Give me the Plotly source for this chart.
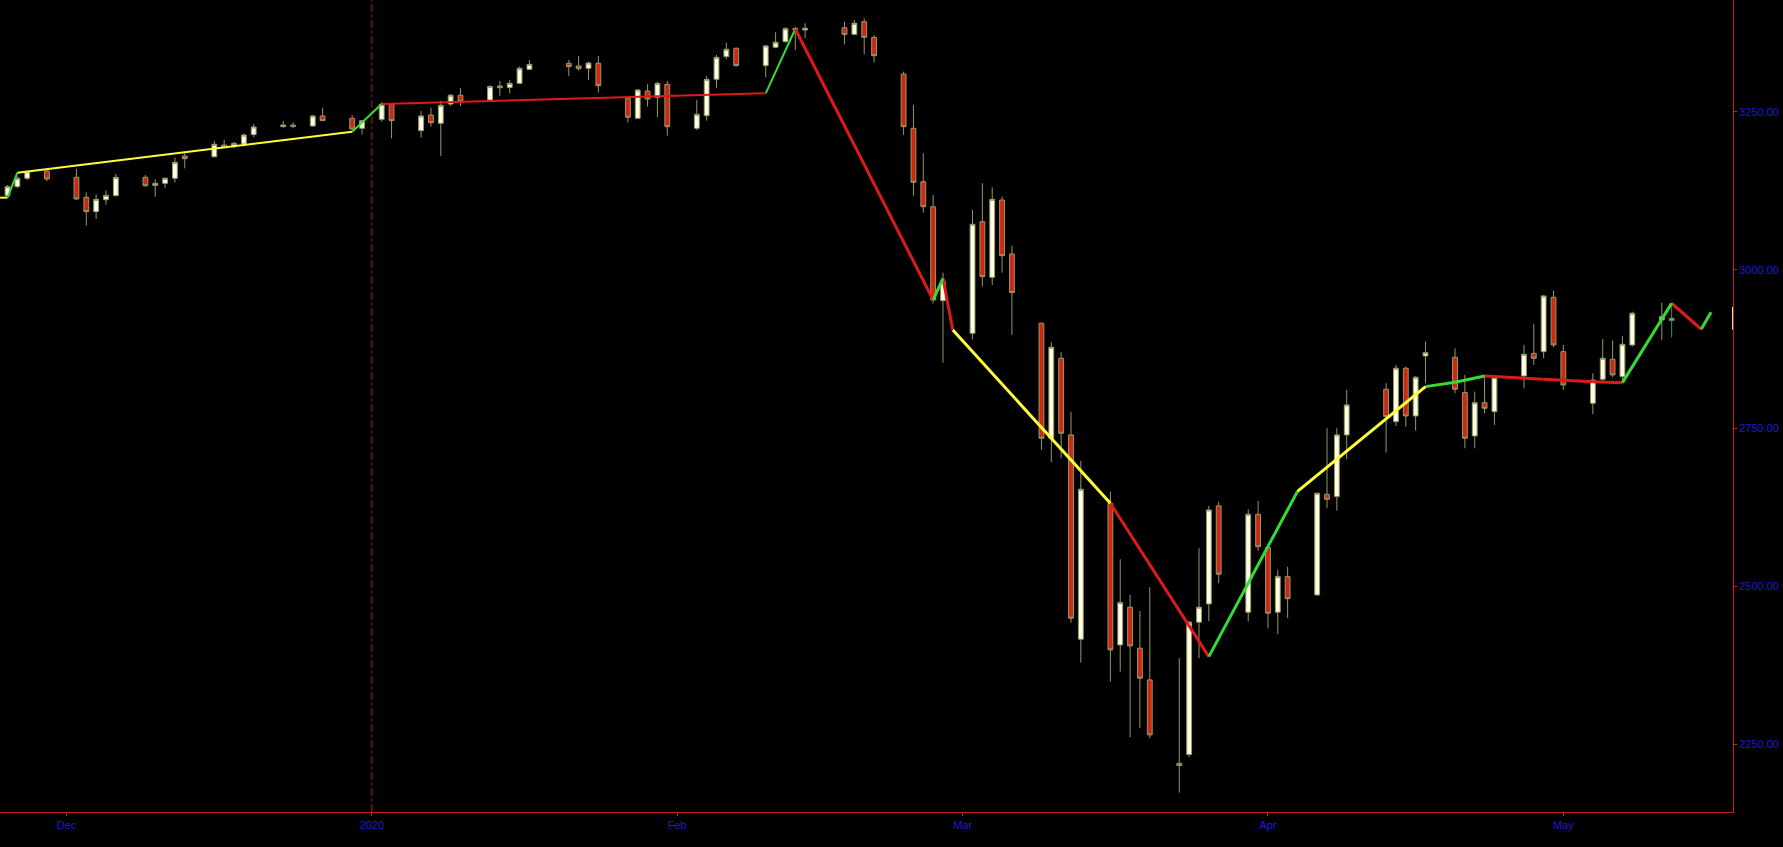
import plotly.graph_objects as go

# ---------------- data ----------------
DATES = [
    "2019-11-25", "2019-11-26", "2019-11-27", "2019-11-29",
    "2019-12-02", "2019-12-03", "2019-12-04", "2019-12-05", "2019-12-06",
    "2019-12-09", "2019-12-10", "2019-12-11", "2019-12-12", "2019-12-13",
    "2019-12-16", "2019-12-17", "2019-12-18", "2019-12-19", "2019-12-20",
    "2019-12-23", "2019-12-24", "2019-12-26", "2019-12-27",
    "2019-12-30", "2019-12-31", "2020-01-02", "2020-01-03",
    "2020-01-06", "2020-01-07", "2020-01-08", "2020-01-09", "2020-01-10",
    "2020-01-13", "2020-01-14", "2020-01-15", "2020-01-16", "2020-01-17",
    "2020-01-21", "2020-01-22", "2020-01-23", "2020-01-24",
    "2020-01-27", "2020-01-28", "2020-01-29", "2020-01-30", "2020-01-31",
    "2020-02-03", "2020-02-04", "2020-02-05", "2020-02-06", "2020-02-07",
    "2020-02-10", "2020-02-11", "2020-02-12", "2020-02-13", "2020-02-14",
    "2020-02-18", "2020-02-19", "2020-02-20", "2020-02-21",
    "2020-02-24", "2020-02-25", "2020-02-26", "2020-02-27", "2020-02-28",
    "2020-03-02", "2020-03-03", "2020-03-04", "2020-03-05", "2020-03-06",
    "2020-03-09", "2020-03-10", "2020-03-11", "2020-03-12", "2020-03-13",
    "2020-03-16", "2020-03-17", "2020-03-18", "2020-03-19", "2020-03-20",
    "2020-03-23", "2020-03-24", "2020-03-25", "2020-03-26", "2020-03-27",
    "2020-03-30", "2020-03-31", "2020-04-01", "2020-04-02", "2020-04-03",
    "2020-04-06", "2020-04-07", "2020-04-08", "2020-04-09",
    "2020-04-13", "2020-04-14", "2020-04-15", "2020-04-16", "2020-04-17",
    "2020-04-20", "2020-04-21", "2020-04-22", "2020-04-23", "2020-04-24",
    "2020-04-27", "2020-04-28", "2020-04-29", "2020-04-30", "2020-05-01",
    "2020-05-04", "2020-05-05", "2020-05-06", "2020-05-07", "2020-05-08",
    "2020-05-11", "2020-05-12",
]
OPEN = [
    3117.5, 3131.7, 3144.9, 3156.4,
    3146.4, 3114.8, 3092.2, 3111.0, 3117.4,
    3146.4, 3133.7, 3136.9, 3144.9, 3180.1,
    3179.0, 3197.5, 3195.0, 3199.1, 3213.9,
    3226.5, 3229.0, 3227.6, 3243.4,
    3239.7, 3223.9, 3238.1, 3261.8,
    3220.2, 3244.9, 3231.8, 3262.3, 3276.1,
    3268.7, 3290.8, 3288.6, 3295.0, 3317.1,
    3326.6, 3322.4, 3318.7, 3326.6,
    3271.3, 3239.7, 3282.8, 3272.9, 3293.4,
    3223.9, 3243.9, 3301.3, 3337.2, 3350.4,
    3323.0, 3352.0, 3360.9, 3381.5, 3379.3,
    3382.9, 3372.4, 3392.4, 3367.7,
    3309.7, 3223.9, 3139.5, 3100.0, 2951.5,
    2899.9, 3076.3, 2988.4, 3110.6, 3025.3,
    2915.8, 2734.0, 2860.5, 2739.3, 2416.4,
    2631.3, 2407.4, 2467.0, 2402.2, 2352.1,
    2220.4, 2234.2, 2443.3, 2472.2, 2627.1,
    2459.1, 2613.8, 2561.2, 2459.1, 2515.3,
    2486.4, 2645.5, 2641.8, 2739.3,
    2811.5, 2760.3, 2844.7, 2769.3, 2864.1,
    2862.0, 2806.2, 2737.7, 2790.3, 2776.1,
    2832.5, 2868.3, 2870.9, 2956.8, 2870.9,
    2789.3, 2827.3, 2858.9, 2831.4, 2881.5,
    2921.0, 2920.0,
]
HIGH = [
    3134.3, 3148.0, 3157.0, 3157.5,
    3159.6, 3122.7, 3119.5, 3126.0, 3151.7,
    3150.1, 3143.2, 3146.0, 3177.9, 3187.0,
    3203.8, 3205.4, 3202.8, 3216.0, 3230.7,
    3235.5, 3233.0, 3244.9, 3256.6,
    3244.9, 3237.0, 3265.0, 3263.4,
    3251.3, 3256.6, 3267.6, 3278.2, 3287.2,
    3292.4, 3298.7, 3300.3, 3321.4, 3331.9,
    3331.9, 3338.2, 3329.2, 3338.2,
    3273.9, 3286.0, 3293.9, 3297.6, 3298.7,
    3268.7, 3306.6, 3339.8, 3359.3, 3351.5,
    3355.7, 3375.7, 3383.6, 3384.6, 3389.9,
    3392.4, 3395.1, 3397.7, 3371.4,
    3313.4, 3260.8, 3184.4, 3118.5, 2995.7,
    3094.8, 3137.0, 3130.7, 3115.9, 3038.4,
    2916.5, 2885.7, 2870.0, 2776.0, 2698.2,
    2649.6, 2542.8, 2486.4, 2461.0, 2498.6,
    2386.4, 2444.8, 2560.2, 2627.1, 2633.4,
    2621.8, 2634.9, 2562.7, 2525.9, 2531.1,
    2648.0, 2749.9, 2749.9, 2810.4,
    2821.0, 2849.9, 2847.2, 2832.5, 2886.7,
    2876.2, 2834.0, 2807.7, 2834.0, 2831.4,
    2881.5, 2914.7, 2960.5, 2967.3, 2881.5,
    2836.7, 2890.5, 2888.3, 2895.7, 2934.1,
    2948.3, 2947.4,
]
LOW = [
    3115.0, 3129.1, 3142.3, 3140.2,
    3110.6, 3070.1, 3080.6, 3103.2, 3117.4,
    3131.7, 3115.8, 3130.0, 3138.1, 3160.6,
    3178.0, 3192.2, 3192.2, 3195.0, 3209.6,
    3225.0, 3224.0, 3226.5, 3235.5,
    3221.2, 3213.9, 3234.4, 3208.1,
    3209.1, 3226.5, 3180.1, 3259.1, 3259.1,
    3267.6, 3275.0, 3279.2, 3295.0, 3316.0,
    3306.6, 3315.0, 3300.3, 3280.2,
    3232.9, 3239.0, 3258.1, 3241.3, 3212.3,
    3221.2, 3236.0, 3288.1, 3333.0, 3321.4,
    3304.5, 3350.4, 3359.3, 3347.7, 3366.2,
    3356.6, 3371.4, 3340.8, 3327.7,
    3213.3, 3117.5, 3090.6, 2947.4, 2853.5,
    2890.5, 2973.6, 2976.3, 2995.7, 2897.3,
    2715.6, 2696.0, 2702.4, 2442.6, 2379.4,
    2349.4, 2365.2, 2261.5, 2275.7, 2259.9,
    2174.0, 2230.0, 2386.4, 2445.0, 2504.9,
    2444.8, 2555.9, 2433.8, 2424.3, 2449.6,
    2485.0, 2623.4, 2619.6, 2700.8,
    2711.3, 2753.5, 2752.4, 2746.1, 2820.9,
    2805.2, 2718.2, 2718.2, 2773.6, 2755.0,
    2813.0, 2849.9, 2860.4, 2877.9, 2810.4,
    2772.4, 2821.9, 2830.4, 2823.5, 2878.8,
    2889.4, 2893.6,
]
CLOSE = [
    3131.7, 3144.9, 3155.4, 3143.8,
    3112.2, 3092.2, 3111.6, 3117.9, 3146.4,
    3133.2, 3136.9, 3144.9, 3170.1, 3175.9,
    3198.6, 3193.8, 3200.0, 3213.3, 3226.0,
    3229.1, 3227.0, 3243.4, 3236.0,
    3222.8, 3236.0, 3261.8, 3236.0,
    3243.4, 3232.8, 3260.2, 3276.1, 3266.1,
    3289.8, 3288.1, 3295.0, 3318.7, 3325.0,
    3321.4, 3318.2, 3327.1, 3291.3,
    3241.3, 3284.5, 3270.2, 3295.0, 3226.5,
    3246.0, 3301.3, 3336.1, 3348.8, 3323.0,
    3354.1, 3359.9, 3381.4, 3380.0, 3382.0,
    3372.4, 3389.9, 3367.7, 3338.7,
    3226.5, 3138.5, 3100.0, 2952.6, 2981.5,
    3072.2, 2989.4, 3111.7, 3022.6, 2964.2,
    2734.0, 2877.9, 2741.9, 2449.6, 2653.4,
    2399.5, 2474.4, 2405.8, 2354.8, 2265.2,
    2216.7, 2443.3, 2467.0, 2620.7, 2519.1,
    2613.8, 2562.7, 2457.5, 2515.7, 2480.4,
    2647.1, 2637.6, 2739.3, 2786.7,
    2768.2, 2844.7, 2769.3, 2830.4, 2869.3,
    2811.5, 2734.0, 2790.3, 2781.4, 2829.8,
    2866.7, 2860.4, 2958.9, 2881.5, 2818.2,
    2826.0, 2860.4, 2834.1, 2882.6, 2931.6,
    2926.0, 2923.7,
]

# swing line vertices and the trend state of each segment (segment i: vertex i -> i+1)
ZZ_DATES = [
    "2019-11-22", "2019-11-25", "2019-11-26", "2019-12-30", "2020-01-02",
    "2020-02-10", "2020-02-13", "2020-02-27", "2020-02-28", "2020-02-29",
    "2020-03-16", "2020-03-26", "2020-04-04", "2020-04-17", "2020-04-20",
    "2020-04-23", "2020-04-29", "2020-05-04", "2020-05-07", "2020-05-12",
    "2020-05-15", "2020-05-16",
]
ZZ_VALUES = [
    3114.3, 3114.3, 3153.8, 3218.6, 3262.3,
    3279.2, 3380.8, 2952.6, 2986.9, 2905.2,
    2631.3, 2388.9, 2650.0, 2815.6, 2822.6,
    2832.5, 2827.3, 2823.5, 2821.9, 2947.4,
    2906.3, 2933.2,
]
ZZ_STATE = [
    "neutral", "bull", "neutral", "bull", "bear",
    "bull", "bear", "bull", "bear", "neutral",
    "bear", "bull", "neutral", "bull", "bull",
    "bear", "bear", "bear", "bull", "bear",
    "bull",
]

TICK_VALS = ["2019-12-01", "2020-01-01", "2020-02-01", "2020-03-01", "2020-04-01", "2020-05-01"]
TICK_TEXT = ["Dec", "2020", "Feb", "Mar", "Apr", "May"]
Y_TICKS = [2250, 2500, 2750, 3000, 3250]

# ---------------- style / layout ----------------
X_RANGE = ["2019-11-24 05:40", "2020-05-18 05:30"]
Y_RANGE = [2143.3, 3426.7]
STATE_COLORS = {"neutral": "#ffff38", "bull": "#33dd33", "bear": "#dc1a1a"}
THIN_UNTIL = "2020-02-13"
AXIS_RED = "#c81e1e"
LABEL_BLUE = "#1c1cd0"
WICK = "#97976a"
FONT = "Liberation Sans, Arial, sans-serif"

fig = go.Figure()

# main candles (all but the current bar)
fig.add_trace(go.Candlestick(
    x=DATES[:-1], open=OPEN[:-1], high=HIGH[:-1], low=LOW[:-1], close=CLOSE[:-1],
    increasing=dict(line=dict(color=WICK, width=1), fillcolor="#ffffe4"),
    decreasing=dict(line=dict(color=WICK, width=1), fillcolor="#d02810"),
    whiskerwidth=0, hoverinfo="skip", showlegend=False,
))
# current bar, highlighted
fig.add_trace(go.Candlestick(
    x=DATES[-1:], open=OPEN[-1:], high=HIGH[-1:], low=LOW[-1:], close=CLOSE[-1:],
    increasing=dict(line=dict(color="#4f8a4f", width=1), fillcolor="#f0fff0"),
    decreasing=dict(line=dict(color="#4f8a4f", width=1), fillcolor="#d02810"),
    whiskerwidth=0, hoverinfo="skip", showlegend=False,
))

# swing line segments, grouped by colour and width
groups = {}
for i, state in enumerate(ZZ_STATE):
    w = 2 if ZZ_DATES[i + 1] <= THIN_UNTIL else 3
    g = groups.setdefault((state, w), {"x": [], "y": []})
    g["x"] += [ZZ_DATES[i], ZZ_DATES[i + 1], None]
    g["y"] += [ZZ_VALUES[i], ZZ_VALUES[i + 1], None]
for (state, w), g in groups.items():
    fig.add_trace(go.Scatter(
        x=g["x"], y=g["y"], mode="lines",
        line=dict(color=STATE_COLORS[state], width=w),
        hoverinfo="skip", showlegend=False, connectgaps=False,
    ))

# last price marker on the price axis
fig.add_trace(go.Scatter(
    x=[X_RANGE[1]], y=[CLOSE[-1]], mode="markers",
    marker=dict(symbol="line-ns", size=16, line=dict(color="#ffe58a", width=2)),
    cliponaxis=False, hoverinfo="skip", showlegend=False,
))

# year separator (first date of the new year)
years = [d[:4] for d in DATES]
new_year = next(y for a, y in zip(years, years[1:]) if y != a)
fig.add_shape(type="line", xref="x", yref="paper", x0=new_year + "-01-01", x1=new_year + "-01-01",
              y0=0, y1=1, line=dict(color="#b81c1c", width=1, dash="8px,3px,2px,3px"), layer="below")

fig.update_layout(
    width=1783, height=847,
    margin=dict(l=0, r=50, t=0, b=35, pad=0, autoexpand=False),
    paper_bgcolor="black", plot_bgcolor="black",
    showlegend=False,
    font=dict(family=FONT, size=11, color=LABEL_BLUE),
    xaxis=dict(
        type="date", range=X_RANGE, rangeslider=dict(visible=False),
        tickmode="array", tickvals=TICK_VALS, ticktext=TICK_TEXT,
        showgrid=False, zeroline=False,
        showline=True, linecolor=AXIS_RED, linewidth=1,
        ticks="outside", ticklen=3, tickcolor=AXIS_RED, tickwidth=1,
        tickfont=dict(family=FONT, size=11, color=LABEL_BLUE),
        fixedrange=True,
    ),
    yaxis=dict(
        side="right", range=Y_RANGE,
        tickmode="array", tickvals=Y_TICKS, tickformat=".2f",
        showgrid=False, zeroline=False,
        showline=True, linecolor=AXIS_RED, linewidth=1,
        ticks="outside", ticklen=3, tickcolor=AXIS_RED, tickwidth=1,
        tickfont=dict(family=FONT, size=11, color=LABEL_BLUE),
        fixedrange=True,
    ),
    hovermode=False,
)

fig.write_html(
    "out.html",
    config={"displayModeBar": False},
    post_script="document.body.style.margin='0px';document.body.style.padding='0px';"
                "document.body.style.overflow='hidden';document.body.style.background='black';",
)
